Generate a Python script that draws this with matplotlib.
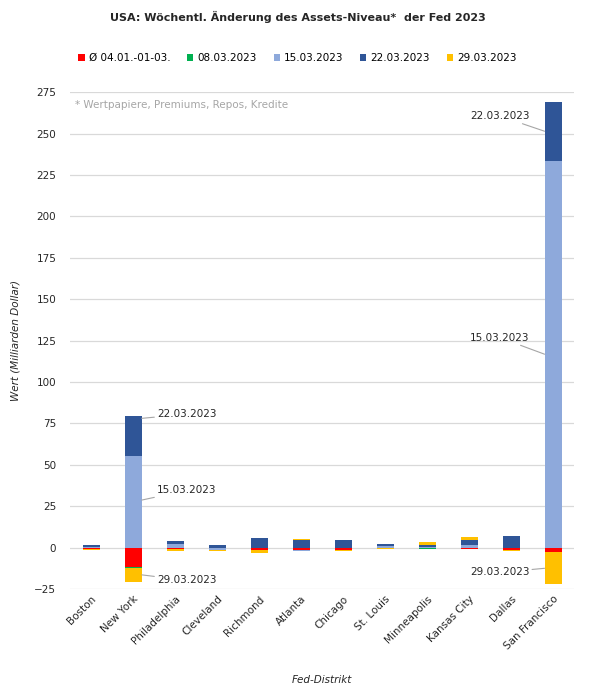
import matplotlib
matplotlib.use("Agg")
import matplotlib.pyplot as plt
import numpy as np

# Fed-Distrikte und woechentliche Aenderungen (Mrd. Dollar)
districts = ['Boston', 'New York', 'Philadelphia', 'Cleveland', 'Richmond', 'Atlanta',
             'Chicago', 'St. Louis', 'Minneapolis', 'Kansas City', 'Dallas', 'San Francisco']
series_names = ['Ø 04.01.-01-03.', '08.03.2023', '15.03.2023', '22.03.2023', '29.03.2023']
avg_jan_mar = [-0.5, -11.5, -0.6, -0.4, -1.2, -1.4, -1.2, 0.0, 0.0, -0.6, -1.4, -2.4]
w_0803 = [0.0, -0.8, 0.0, 0.0, -0.2, 0.0, -0.2, -0.3, -0.5, 0.0, 0.0, 0.0]
w_1503 = [0.5, 55.3, 2.0, -0.8, 0.0, -0.6, 0.0, 0.8, 0.4, 1.4, 0.0, 233.6]
w_2203 = [1.0, 24.5, 1.8, 1.6, 5.6, 4.4, 4.4, 1.4, 1.2, 3.0, 6.8, 35.6]
w_2903 = [-0.7, -8.2, -1.2, -0.6, -1.6, 0.6, -0.8, -0.6, 1.6, 1.8, -0.6, -19.3]
colors = ['#FF0000', '#00B050', '#8EA9DB', '#2F5597', '#FFC000']

data = np.array([avg_jan_mar, w_0803, w_1503, w_2203, w_2903])
x = np.arange(len(districts))
width = 0.41

fig = plt.figure(figsize=(5.95, 6.98), dpi=100)
ax = fig.add_axes([0.118, 0.156, 0.847, 0.712])

pos_base = np.zeros(len(districts))
neg_base = np.zeros(len(districts))
bottoms = []
for vals, name, col in zip(data, series_names, colors):
    b = np.where(vals >= 0, pos_base, neg_base)
    ax.bar(x, vals, width, bottom=b, color=col, label=name, zorder=3)
    bottoms.append(b)
    pos_base = pos_base + np.clip(vals, 0, None)
    neg_base = neg_base + np.clip(vals, None, 0)

# Beschriftungen mit Fuehrungslinien (New York, San Francisco)
line_kw = dict(arrowstyle='-', color='#A6A6A6', lw=0.8, shrinkA=0, shrinkB=0)
ny, sf = 1, 11
# (Reihe, Anteil im Segment, Versatz y in pt)
ny_labels = [(3, 0.93, 3), (2, 0.52, 7), (4, 0.5, -4)]
sf_labels = [(3, 0.5, 11), (2, 0.5, 12), (4, 0.52, -3)]
for s, frac, dy_pt in ny_labels:
    anchor = bottoms[s][ny] + data[s][ny] * frac
    ax.annotate(series_names[s], xy=(x[ny] + width / 2, anchor), xytext=(11, dy_pt),
                textcoords='offset points', ha='left', va='center', fontsize=7.5,
                color='#262626', arrowprops=line_kw, zorder=4)
for s, frac, dy_pt in sf_labels:
    anchor = bottoms[s][sf] + data[s][sf] * frac
    ax.annotate(series_names[s], xy=(x[sf] - width / 2, anchor), xytext=(-11, dy_pt),
                textcoords='offset points', ha='right', va='center', fontsize=7.5,
                color='#262626', arrowprops=line_kw, zorder=4)

ax.set_xlim(-0.5, len(districts) - 0.5)
ax.set_ylim(-25, 275)
ax.set_yticks(np.arange(-25, 276, 25))
ax.yaxis.grid(True, color='#D9D9D9', lw=0.9, zorder=0)
for sp in ax.spines.values():
    sp.set_visible(False)
ax.tick_params(axis='both', length=0, labelsize=7.5, colors='#262626')
ax.tick_params(axis='y', pad=10)
ax.set_xticks(x)
ax.set_xticklabels(districts, rotation=45, ha='right', rotation_mode='anchor')

ax.set_ylabel('Wert (Milliarden Dollar)', fontsize=7.5, style='italic', color='#262626', labelpad=10)
ax.set_xlabel('Fed-Distrikt', fontsize=7.5, style='italic', color='#262626', labelpad=17)

ax.text(0.01, 0.985, '* Wertpapiere, Premiums, Repos, Kredite', transform=ax.transAxes,
        ha='left', va='top', fontsize=7.5, color='#A6A6A6')

fig.suptitle('USA: Wöchentl. Änderung des Assets-Niveau*  der Fed 2023', x=0.5, y=0.984,
             fontsize=8, fontweight='bold', color='#262626')
fig.legend(loc='center', bbox_to_anchor=(0.5, 0.917), ncol=5, frameon=False, fontsize=7.5,
           handlelength=0.6, handleheight=0.6, handletextpad=0.4, columnspacing=1.6)

fig.savefig('out.png', dpi=100, facecolor='white')
